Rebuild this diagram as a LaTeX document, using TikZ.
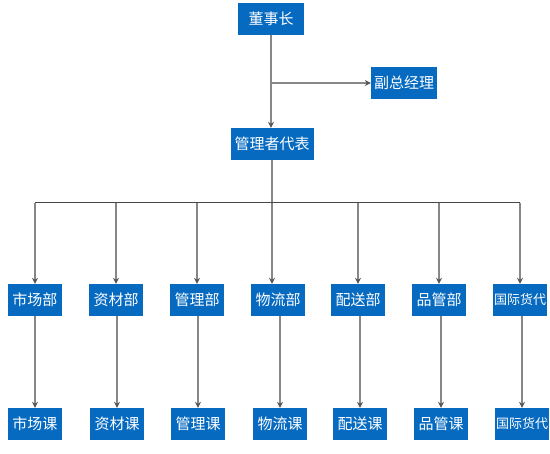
\documentclass[tikz,border=0pt]{standalone}
\usepackage{fontspec}
\setmainfont{Noto Sans CJK SC}
\usetikzlibrary{shapes,arrows.meta}
\definecolor{boxblue}{RGB}{6,106,193}
\definecolor{linegray}{RGB}{135,135,135}
\definecolor{busgray}{RGB}{70,70,70}
\definecolor{tipgray}{RGB}{85,85,85}
\tikzstyle{block} = [fill=boxblue, rectangle, text=white, inner sep=0pt,
    minimum height=32pt, minimum width=54pt, font=\fontsize{15}{17}\selectfont]
\tikzstyle{wide} = [block, minimum width=66pt]
\tikzstyle{small} = [block, font=\fontsize{13}{15}\selectfont]
\tikzstyle{link} = [draw=linegray, line width=1.3pt,
    -{Stealth[length=6pt, width=6pt, inset=2pt, color=tipgray]}]
\tikzstyle{bus} = [draw=busgray, line width=1pt]

\begin{document}
\begin{tikzpicture}[x=1pt, y=-1pt]
\useasboundingbox (0,0) rectangle (550,454);
\coordinate (bus) at (272,203);

\node[wide, name=chair] at (271,19) {董事长};
\node[wide, name=vice] at (404,83) {副总经理};
\node[block, name=rep, minimum width=83pt] at (272,144) {管理者代表};

% departments
\node[block, name=shichangbu] at (35,300) {市场部};
\node[block, name=zicaibu] at (116,300) {资材部};
\node[block, name=guanlibu] at (197,300) {管理部};
\node[block, name=wuliubu] at (278,300) {物流部};
\node[block, name=peisongbu] at (358,300) {配送部};
\node[block, name=pinguanbu] at (439,300) {品管部};
\node[small, name=guojibu] at (520,300) {国际货代};

% sections
\node[block, name=shichangke] at (35,424) {市场课};
\node[block, name=zicaike] at (117,424) {资材课};
\node[block, name=guanlike] at (198,424) {管理课};
\node[block, name=wuliuke] at (280,424) {物流课};
\node[block, name=peisongke] at (360,424) {配送课};
\node[block, name=pinguanke] at (441,424) {品管课};
\node[small, name=guojike] at (522,424) {国际货代};

\draw[link] (chair.south) -- (chair.south |- rep.north);
\draw[link] (chair.south |- vice.west) -- (vice.west);
\draw[link] (rep.south) -- (rep.south |- wuliubu.north);

\draw[bus] (shichangbu.north |- bus) -- (guojibu.north |- bus);
\draw[link] (shichangbu.north |- bus) -- (shichangbu.north);
\draw[link] (zicaibu.north |- bus) -- (zicaibu.north);
\draw[link] (guanlibu.north |- bus) -- (guanlibu.north);
\draw[link] (peisongbu.north |- bus) -- (peisongbu.north);
\draw[link] (pinguanbu.north |- bus) -- (pinguanbu.north);
\draw[link] (guojibu.north |- bus) -- (guojibu.north);

\draw[link] (shichangke.north |- shichangbu.south) -- (shichangke.north);
\draw[link] (zicaike.north |- zicaibu.south) -- (zicaike.north);
\draw[link] (guanlike.north |- guanlibu.south) -- (guanlike.north);
\draw[link] (wuliuke.north |- wuliubu.south) -- (wuliuke.north);
\draw[link] (peisongke.north |- peisongbu.south) -- (peisongke.north);
\draw[link] (pinguanke.north |- pinguanbu.south) -- (pinguanke.north);
\draw[link] (guojike.north |- guojibu.south) -- (guojike.north);

\end{tikzpicture}
\end{document}
